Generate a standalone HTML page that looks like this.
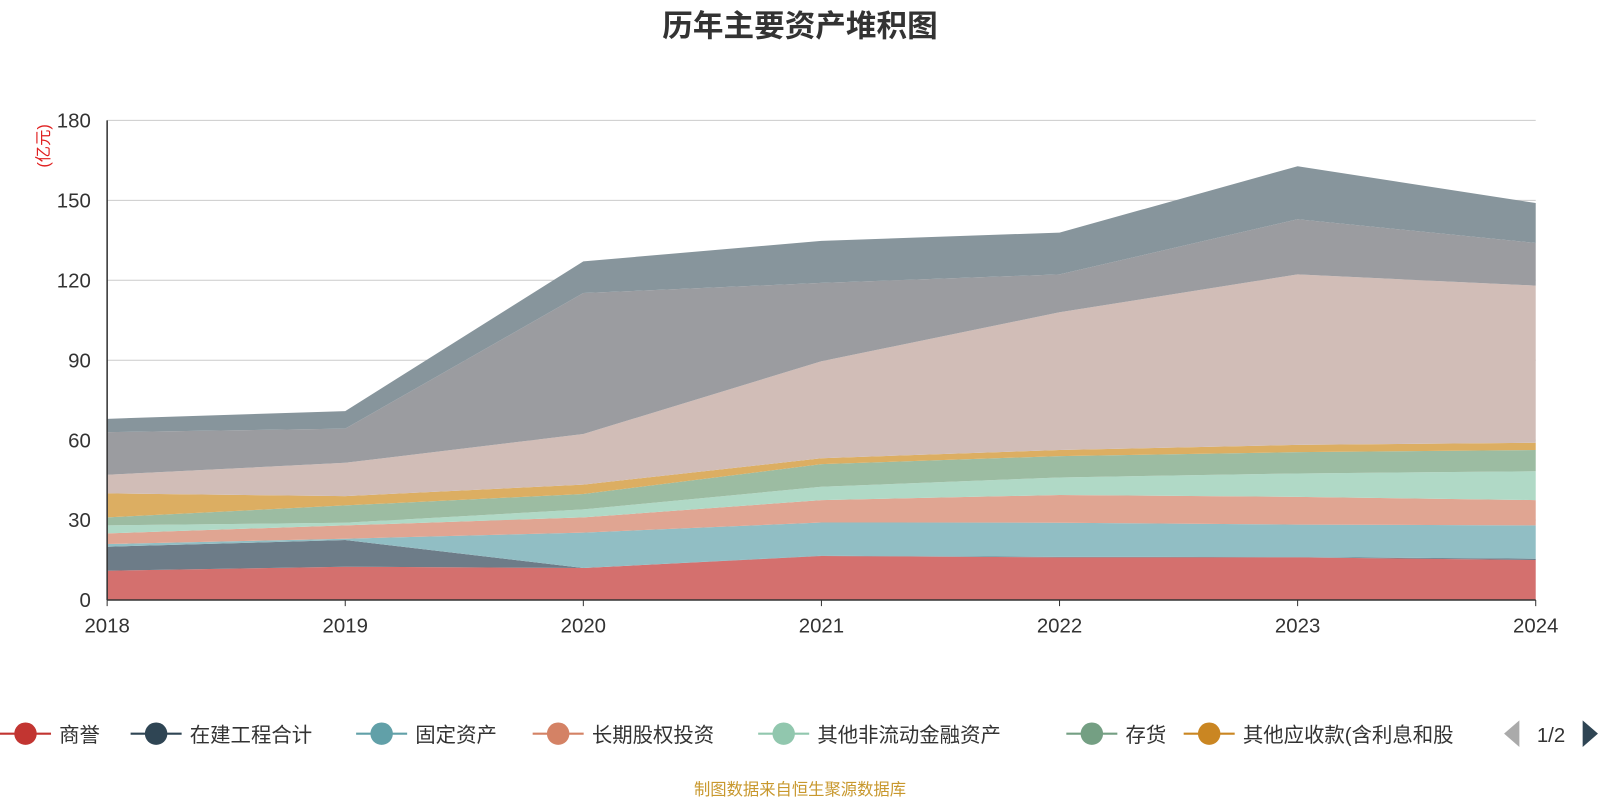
<!DOCTYPE html>
<html><head><meta charset="utf-8"><style>
body{margin:0;background:#fff;font-family:"Liberation Sans","Noto Sans CJK SC",sans-serif;}
</style></head><body>
<svg id="chart" width="1600" height="800" viewBox="0 0 1568 784" preserveAspectRatio="none" xmlns="http://www.w3.org/2000/svg" style="display:block;font-family:'Liberation Sans','Noto Sans CJK SC',sans-serif">
<text x="784" y="36" text-anchor="middle" font-size="30" font-weight="bold" fill="#333">历年主要资产堆积图</text>
<text transform="translate(48,143) rotate(-90)" text-anchor="middle" font-size="16" fill="#e02020">(亿元)</text>
<g id="grid"></g><g id="areas"></g><g id="axes"></g><g id="legend"></g>
<text x="784" y="779" text-anchor="middle" font-size="16" fill="#c8982e">制图数据来自恒生聚源数据库</text>
</svg>
<script>
const years=['2018','2019','2020','2021','2022','2023','2024'];
const yTicks=[0,30,60,90,120,150,180];
const seriesNames=['商誉','在建工程合计','固定资产','长期股权投资','其他非流动金融资产','存货','其他应收款(含利息和股利)','其他资产A','其他资产B','其他资产C'];
const s0=[11,12.5,12,16.5,16,16,15];
const s1=[9,10,0,0.1,0.2,0.1,0.5];
const s2=[1,0.5,13.3,12.5,12.8,12.2,12.5];
const s3=[4,5,5.7,8.4,10.4,10.4,9.5];
const s4=[3,1,3,5,6.6,8.8,10.8];
const s5=[3,6.5,5.8,8.5,8,8,8];
const s6=[9,3.5,3.5,2.2,2.3,2.7,2.7];
const s7=[7,12.5,19,36.4,51.7,64,59];
const s8=[16,12.8,52.9,29.4,14.2,20.7,16];
const s9=[5,6.6,11.9,15.8,15.7,19.9,15];
const seriesData=[s0,s1,s2,s3,s4,s5,s6,s7,s8,s9];
const fills=['#d4706e','#6d7c88','#91bec4','#e0a592','#b0d9c6','#9cbca2','#dcae62','#d1bdb7','#9b9ca0','#87959c'];
const legendColors=['#c23531','#2f4554','#61a0a8','#d48265','#91c7ae','#749f83','#ca8622'];
const X0=105,X1=1505,Y0=588,Y1=118,YMAX=180;
const x=i=>X0+(X1-X0)*i/(years.length-1);
const y=v=>Y0-(Y0-Y1)*v/YMAX;
const NS='http://www.w3.org/2000/svg';
function mk(t,a,p){const e=document.createElementNS(NS,t);for(const k in a)e.setAttribute(k,a[k]);p.appendChild(e);return e;}
const grid=document.getElementById('grid'),areas=document.getElementById('areas'),axes=document.getElementById('axes'),legend=document.getElementById('legend');
yTicks.forEach(t=>{
  if(t>0){const l=mk('line',{x1:X0,x2:X1,y1:y(t),y2:y(t),stroke:'#ccc','stroke-width':1},grid);
  
  }
  const tx=mk('text',{x:89,y:y(t)+7,'text-anchor':'end','font-size':20,fill:'#333'},axes);tx.textContent=t;
  
  
});
let cum=years.map(()=>0);
seriesData.forEach((d,si)=>{
  const lo=cum.slice();const hi=cum.map((c,i)=>c+d[i]);cum=hi;
  let p='M'+hi.map((v,i)=>x(i)+','+y(v)).join('L');
  for(let i=years.length-1;i>=0;i--)p+='L'+x(i)+','+y(lo[i]);
  const a=mk('path',{d:p+'Z',fill:fills[si],stroke:'none'},areas);
  
  
});
const ax=mk('line',{x1:X0,x2:X1,y1:Y0,y2:Y0,stroke:'#333','stroke-width':1.5},axes);


const ay=mk('line',{x1:X0,x2:X0,y1:Y1,y2:Y0,stroke:'#333','stroke-width':1.5},axes);


years.forEach((yr,i)=>{
  const tk=mk('line',{x1:x(i),x2:x(i),y1:Y0,y2:Y0+6,stroke:'#333'},axes);
  
  
  const t=mk('text',{x:x(i),y:620,'text-anchor':'middle','font-size':20,fill:'#333'},axes);t.textContent=yr;
  
  
});
const lx=[0,128,349,522,743,1045,1160];
const labels=['商誉','在建工程合计','固定资产','长期股权投资','其他非流动金融资产','存货','其他应收款(含利息和股'];
lx.forEach((px,i)=>{
  const g=mk('g',{},legend);
  
  
  mk('line',{x1:px,x2:px+50,y1:719,y2:719,stroke:legendColors[i],'stroke-width':2},g);
  mk('circle',{cx:px+25,cy:719,r:11,fill:legendColors[i]},g);
  const t=mk('text',{x:px+58,y:727,'font-size':20,fill:'#333'},g);t.textContent=labels[i];
});
mk('rect',{x:1460,y:695,width:140,height:50,fill:'#fff'},legend);
const prev=mk('path',{d:'M1489,706 L1474,719 L1489,732 Z',fill:'#aaa'},legend);


const pg=mk('text',{x:1520,y:727,'text-anchor':'middle','font-size':20,fill:'#333'},legend);pg.textContent='1/2';


const nxt=mk('path',{d:'M1551,706 L1566,719 L1551,732 Z',fill:'#2f4554'},legend);


</script>
</body></html>
